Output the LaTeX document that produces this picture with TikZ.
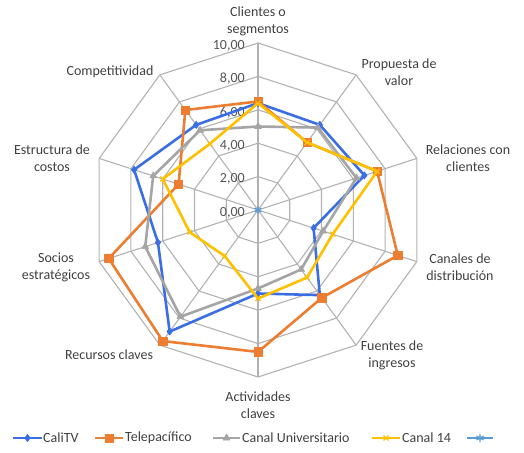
\documentclass[tikz,border=0pt]{standalone}
\usepackage{fontspec}
\setmainfont{Carlito}
\usetikzlibrary{plotmarks}

\definecolor{calitvblue}{RGB}{58,110,228}
\definecolor{teleorange}{RGB}{237,125,49}
\definecolor{univgray}{RGB}{165,165,165}
\definecolor{canalyellow}{RGB}{255,192,0}
\definecolor{emptyblue}{RGB}{91,155,213}
\definecolor{labelgray}{RGB}{64,64,64}

\tikzset{
  gridline/.style={draw=gray!60, line width=1.1pt},
  axislabel/.style={align=center, text=labelgray, inner sep=0pt},
  ticklabel/.style={anchor=east, text=labelgray!90, inner sep=0pt},
  legtext/.style={anchor=west, text=labelgray, inner sep=0pt},
  series/.style={line width=2.6pt, line join=round},
  calitv/.style={series, draw=calitvblue, mark=diamond*, mark size=3.6pt,
    mark options={solid, fill=calitvblue, draw=calitvblue, line width=0.6pt}},
  tele/.style={series, draw=teleorange, mark=square*, mark size=4.2pt,
    mark options={solid, fill=teleorange, draw=teleorange, line width=0.6pt}},
  univ/.style={series, draw=univgray, mark=triangle*, mark size=4pt,
    mark options={solid, fill=univgray, draw=univgray, line width=0.6pt}},
  canal/.style={series, draw=canalyellow, mark=x, mark size=3.5pt,
    mark options={solid, draw=canalyellow, line width=1.2pt}},
  empty/.style={series, draw=emptyblue, mark=asterisk, mark size=4pt,
    mark options={solid, draw=emptyblue, line width=1.2pt}},
}

\begin{document}
\begin{tikzpicture}[x=1pt, y=1pt, font=\fontsize{14}{17}\selectfont]
\useasboundingbox (0,0) rectangle (524,452);

\begin{scope}[shift={(258,242)}, x=16.7pt, y=16.7pt]
% rings and spokes
\foreach \r in {2,4,...,10}
  \draw[gridline] (90:\r) \foreach \k in {1,...,9} {-- (90-36*\k:\r)} -- cycle;
\foreach \k in {0,...,9}
  \draw[gridline] (0,0) -- (90-36*\k:10);

% scale
\foreach \r in {0,2,...,10}
  \node[ticklabel] (tick\r) at (-0.78,\r-0.15) {\r,00};

% series
\draw[calitv] plot coordinates {(90:6.4) (54:6.3) (18:6.7) (-18:3.5) (-54:6.3)
  (-90:5.0) (-126:9.0) (-162:6.3) (-198:7.8) (-234:6.3)} -- cycle;
\draw[tele] plot coordinates {(90:6.5) (54:5.0) (18:7.5) (-18:8.8) (-54:6.5)
  (-90:8.5) (-126:9.7) (-162:9.4) (-198:5.0) (-234:7.4)} -- cycle;
\draw[univ] plot coordinates {(90:5.0) (54:6.1) (18:6.2) (-18:4.1) (-54:4.4)
  (-90:4.7) (-126:7.9) (-162:7.1) (-198:6.6) (-234:5.9)} -- cycle;
\draw[canal] plot coordinates {(90:6.4) (54:5.0) (18:7.5) (-18:4.7) (-54:5.0)
  (-90:5.3) (-126:3.4) (-162:4.3) (-198:6.0) (-234:4.9)} -- cycle;
\draw[empty] plot coordinates {(0,0)};
\end{scope}

% axis labels
\node[axislabel] (clientes) at (258,431) {Clientes o\\segmentos};
\node[axislabel] (propuesta) at (399,380) {Propuesta de\\valor};
\node[axislabel] (relaciones) at (468,294) {Relaciones con\\clientes};
\node[axislabel] (canales) at (460,185) {Canales de\\distribución};
\node[axislabel] (fuentes) at (392,97) {Fuentes de\\ingresos};
\node[axislabel] (actividades) at (258,47) {Actividades\\claves};
\node[axislabel] (recursos) at (109,97) {Recursos claves};
\node[axislabel] (socios) at (56,185) {Socios\\estratégicos};
\node[axislabel] (estructura) at (52,294) {Estructura de\\costos};
\node[axislabel] (competitividad) at (110,380) {Competitividad};

% legend
\coordinate (legcali) at (27.5,14);
\coordinate (legtele) at (109,14);
\coordinate (leguniv) at (226.5,14);
\coordinate (legcanal) at (386,14);
\coordinate (legempty) at (480,14);
\draw[calitv] ([xshift=-14.5pt]legcali) -- ([xshift=14.5pt]legcali) plot coordinates {(legcali)};
\draw[tele] ([xshift=-14pt]legtele) -- ([xshift=14pt]legtele) plot coordinates {(legtele)};
\draw[univ] ([xshift=-13.5pt]leguniv) -- ([xshift=13.5pt]leguniv) plot coordinates {(leguniv)};
\draw[canal] ([xshift=-14pt]legcanal) -- ([xshift=14pt]legcanal) plot coordinates {(legcanal)};
\draw[empty] ([xshift=-13pt]legempty) -- ([xshift=13pt]legempty) plot coordinates {(legempty)};
\node[legtext] (lcali) at (43,14) {CaliTV};
\node[legtext] (ltele) at (125,14) {Telepacífico};
\node[legtext] (luniv) at (242,14) {Canal Universitario};
\node[legtext] (lcanal) at (402,14) {Canal 14};
\end{tikzpicture}
\end{document}
